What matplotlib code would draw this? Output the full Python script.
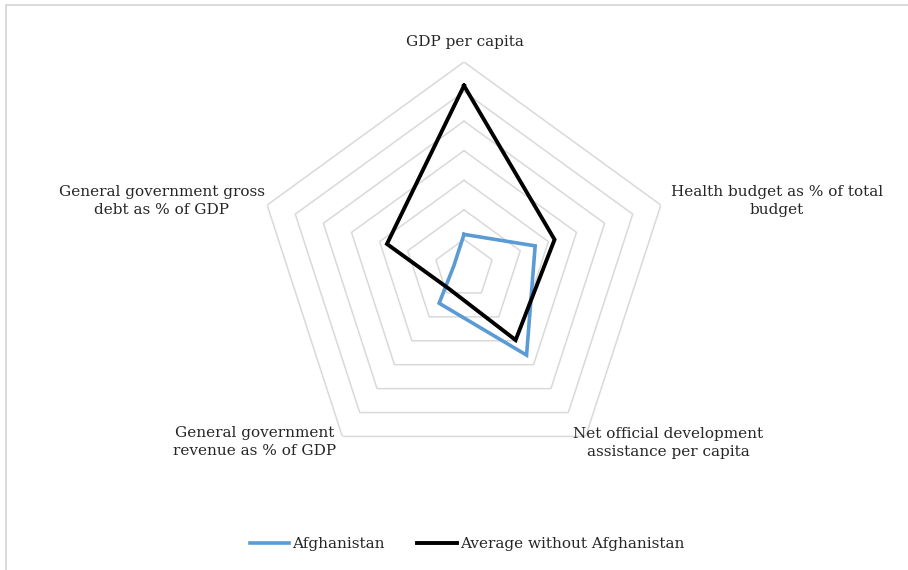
import numpy as np
import matplotlib
matplotlib.use('Agg')
import matplotlib.pyplot as plt
from matplotlib.patches import Rectangle
from matplotlib.lines import Line2D

categories = ["GDP per capita",
              "Health budget as % of total\nbudget",
              "Net official development\nassistance per capita",
              "General government\nrevenue as % of GDP",
              "General government gross\ndebt as % of GDP"]
afghanistan = [1.17, 2.53, 3.6, 1.43, 0.36]
average = [6.2, 3.22, 2.97, 0.84, 2.74]
rings = [1, 2, 3, 4, 5, 6, 7]

plt.rcParams['font.family'] = ['DejaVu Serif']
W, H = 908, 570
fig = plt.figure(figsize=(W / 100, H / 100), dpi=100)

cx, cy, R = 464, 269, 207
ax = fig.add_axes([(cx - R) / W, (H - cy - R) / H, 2 * R / W, 2 * R / H],
                  projection='polar')
ax.set_theta_offset(np.pi / 2)
ax.set_theta_direction(-1)
ax.set_ylim(0, 7)
ax.grid(False)
ax.spines['polar'].set_visible(False)
ax.set_xticks([])
ax.set_yticks([])
ax.patch.set_alpha(0)

theta = np.linspace(0, 2 * np.pi, len(categories), endpoint=False)
tc = np.append(theta, theta[0])
for r in rings:
    ax.plot(tc, [r] * len(tc), color='#D9D9D9', lw=1.1, zorder=1)

ax.plot(tc, afghanistan + afghanistan[:1], color='#5B9BD5', lw=2.6,
        solid_joinstyle='miter', zorder=3)
ax.plot(tc, average + average[:1], color='black', lw=2.8,
        solid_joinstyle='miter', zorder=4)

label_pos = [(465, 42), (777, 201), (668, 443), (255, 442), (162, 201)]
for txt, (x, y) in zip(categories, label_pos):
    fig.text(x / W, 1 - y / H, txt, ha='center', va='center', fontsize=11,
             color='#262626', linespacing=1.4)

fig.patches.append(Rectangle((6 / W, -0.1), 1.2, 1 - 5 / H + 0.1,
                             transform=fig.transFigure, fill=False,
                             edgecolor='#D9D9D9', lw=1.4, clip_on=False))

handles = [Line2D([], [], color='#5B9BD5', lw=2.6),
           Line2D([], [], color='black', lw=2.8)]
fig.legend(handles, ["Afghanistan", "Average without Afghanistan"],
           loc='center', bbox_to_anchor=(467 / W, 1 - 544 / H), ncol=2,
           frameon=False, fontsize=11, handlelength=2.6, handletextpad=0.2,
           columnspacing=2.1, labelcolor='#262626')

fig.savefig("out.png", dpi=100)
